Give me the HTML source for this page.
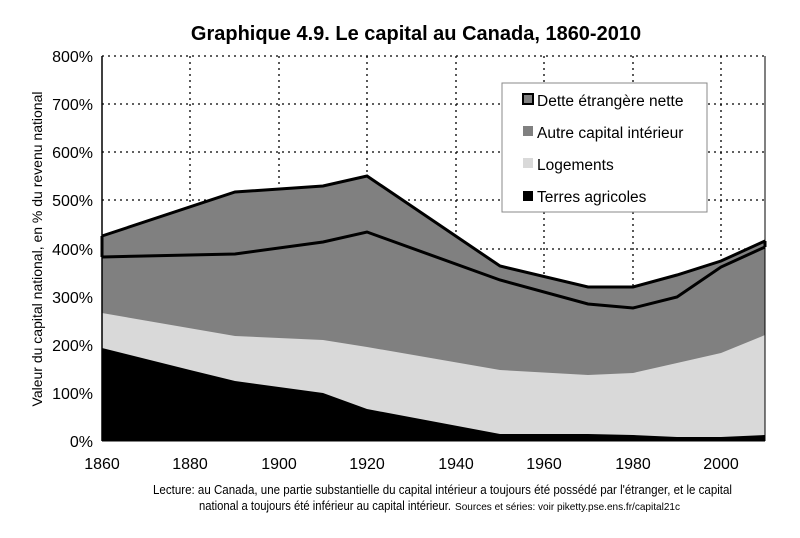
<!DOCTYPE html>
<html><head><meta charset="utf-8"><style>body{margin:0;background:#fff}svg{display:block}</style></head><body>
<svg width="800" height="538" viewBox="0 0 800 538" xmlns="http://www.w3.org/2000/svg" font-family="Liberation Sans, Arial, sans-serif">
<rect width="800" height="538" fill="#fff"/>
<text x="416" y="40" font-size="20" font-weight="bold" text-anchor="middle">Graphique 4.9. Le capital au Canada, 1860-2010</text>
<g stroke="#000" stroke-width="1.3" stroke-dasharray="2,4">
<line x1="102" y1="56" x2="765" y2="56"/><line x1="102" y1="104" x2="765" y2="104"/><line x1="102" y1="152" x2="765" y2="152"/><line x1="102" y1="200" x2="765" y2="200"/><line x1="102" y1="249" x2="765" y2="249"/><line x1="102" y1="297" x2="765" y2="297"/><line x1="102" y1="345" x2="765" y2="345"/><line x1="102" y1="393" x2="765" y2="393"/>
<line x1="190" y1="56" x2="190" y2="441"/><line x1="279" y1="56" x2="279" y2="441"/><line x1="367" y1="56" x2="367" y2="441"/><line x1="456" y1="56" x2="456" y2="441"/><line x1="544" y1="56" x2="544" y2="441"/><line x1="633" y1="56" x2="633" y2="441"/><line x1="721" y1="56" x2="721" y2="441"/>
</g>
<!-- top area (dette) -->
<polygon fill="#808080" points="102,441 102,236 235,192 323,186 367,176 500,266 588,287 633,287 677,275 721,261 765,241 765,441"/>
<polygon fill="#808080" points="102,441 102,257 235,254 323,242 367,232 500,280 588,304 633,308 677,297 721,267 765,247 765,441"/>
<polygon fill="#d9d9d9" points="102,441 102,313 235,336 323,340 367,347 500,370 588,375 633,373 677,363 721,353 765,335 765,441"/>
<polygon fill="#000" points="102,441 102,348 190,370 235,381 323,393 367,409 500,434 588,434 633,435 677,437 721,437 765,435 765,441"/>
<polyline fill="none" stroke="#000" stroke-width="3" points="102,236 235,192 323,186 367,176 500,266 588,287 633,287 677,275 721,261 765,241"/>
<polyline fill="none" stroke="#000" stroke-width="3" points="102,257 235,254 323,242 367,232 500,280 588,304 633,308 677,297 721,267 765,247"/>
<line x1="102" y1="236" x2="102" y2="257" stroke="#000" stroke-width="3"/>
<line x1="765" y1="241" x2="765" y2="247" stroke="#000" stroke-width="3"/>
<line x1="102" y1="56" x2="102" y2="441" stroke="#000" stroke-width="1.5"/>
<line x1="765" y1="56" x2="765" y2="441" stroke="#000" stroke-width="1"/>
<line x1="102" y1="441" x2="765" y2="441" stroke="#000" stroke-width="1"/>
<g font-size="16" text-anchor="end">
<text x="93" y="62">800%</text><text x="93" y="110">700%</text><text x="93" y="158">600%</text><text x="93" y="206">500%</text><text x="93" y="255">400%</text><text x="93" y="303">300%</text><text x="93" y="351">200%</text><text x="93" y="399">100%</text><text x="93" y="447">0%</text>
</g>
<g font-size="16" text-anchor="middle">
<text x="102" y="469">1860</text><text x="190" y="469">1880</text><text x="279" y="469">1900</text><text x="367" y="469">1920</text><text x="456" y="469">1940</text><text x="544" y="469">1960</text><text x="633" y="469">1980</text><text x="721" y="469">2000</text>
</g>
<text transform="translate(42,249) rotate(-90)" font-size="14" text-anchor="middle">Valeur du capital national, en % du revenu national</text>
<rect x="502" y="83" width="205" height="129" fill="#fff" stroke="#888" stroke-width="1"/>
<rect x="523" y="94" width="10" height="10" fill="#808080" stroke="#000" stroke-width="2"/>
<rect x="523" y="126" width="10" height="10" fill="#808080"/>
<rect x="523" y="158" width="10" height="10" fill="#d9d9d9"/>
<rect x="523" y="191" width="10" height="10" fill="#000"/>
<g font-size="15.5">
<text x="537" y="106">Dette étrangère nette</text>
<text x="537" y="138">Autre capital intérieur</text>
<text x="537" y="170">Logements</text>
<text x="537" y="202">Terres agricoles</text>
</g>
<text x="153" y="494" font-size="12.5" textLength="579" lengthAdjust="spacingAndGlyphs">Lecture: au Canada, une partie substantielle du capital intérieur a toujours été possédé par l'étranger, et le capital</text>
<text x="199" y="510" font-size="12.5" textLength="252" lengthAdjust="spacingAndGlyphs">national a toujours été inférieur au capital intérieur.</text>
<text x="455" y="510" font-size="10.5" textLength="225" lengthAdjust="spacingAndGlyphs">Sources et séries: voir piketty.pse.ens.fr/capital21c</text>
</svg>
</body></html>
